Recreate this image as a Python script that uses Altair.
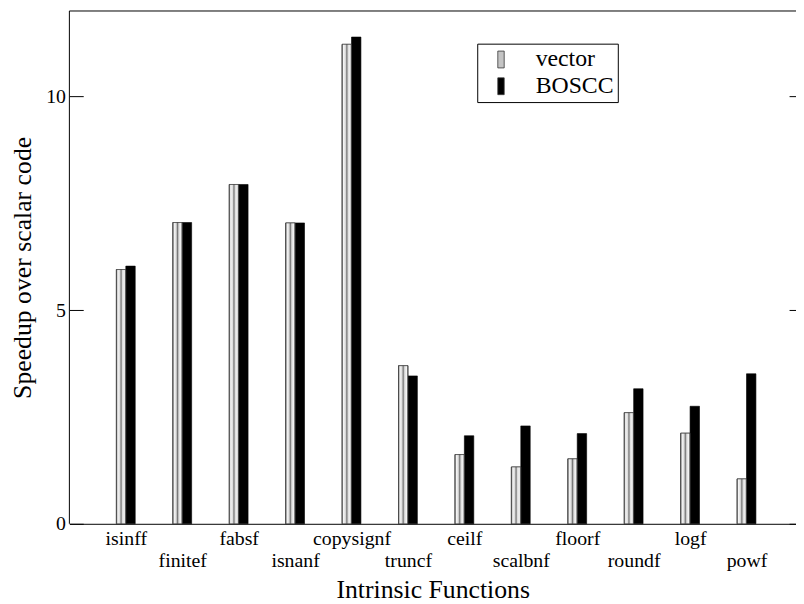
import json
import altair as alt
import pandas as pd

# ---- data ----
functions = ["isinff", "finitef", "fabsf", "isnanf", "copysignf", "truncf",
             "ceilf", "scalbnf", "floorf", "roundf", "logf", "powf"]
vector = [5.95, 7.05, 7.94, 7.04, 11.22, 3.70, 1.62, 1.33, 1.52, 2.60, 2.12, 1.05]
boscc = [6.03, 7.05, 7.94, 7.04, 11.39, 3.46, 2.06, 2.29, 2.11, 3.16, 2.75, 3.51]
series_names = ["vector", "BOSCC"]
y_ticks = [0, 5, 10]

rows = []
for i, f in enumerate(functions):
    rows.append({"func": f, "pos": i + 1, "series": "vector", "side": 0, "value": vector[i]})
    rows.append({"func": f, "pos": i + 1, "series": "BOSCC", "side": 1, "value": boscc[i]})
df = pd.DataFrame(rows)

# ---- layout / style ----
FONT = "Liberation Serif"
W, H = 734, 518
STEP = 57.0
XMAX = W / STEP
YMAX = 12
BAR_W = 0.167

xscale = alt.Scale(domain=[0, XMAX], nice=False, zero=False, padding=0)
yscale = alt.Scale(domain=[0, YMAX], nice=False, zero=False, padding=0)

label_expr = json.dumps(functions) + "[datum.value - 1]"

x_axis = alt.Axis(
    values=list(range(1, len(functions) + 1)), labelExpr=label_expr,
    ticks=False, grid=False, domain=True, domainColor="black", domainWidth=1,
    labelFont=FONT, labelFontSize=20, labelColor="black", labelOverlap=False,
    labelFlush=False,
    labelPadding={"condition": {"test": "datum.value % 2 == 0", "value": 27}, "value": 5},
    title="Intrinsic Functions", titleFont=FONT, titleFontSize=26,
    titleFontWeight="normal", titleColor="black", titlePadding=6,
)

y_axis = alt.Axis(
    values=y_ticks, orient="left", offset=-14, tickSize=14, tickColor="black",
    tickWidth=1, domain=False, grid=False, format="d",
    labelFont=FONT, labelFontSize=20, labelColor="black", labelPadding=4,
    title="Speedup over scalar code", titleFont=FONT, titleFontSize=26,
    titleFontWeight="normal", titleColor="black", titlePadding=10,
)

y_axis_right = alt.Axis(
    values=y_ticks, orient="right", offset=-7, tickSize=7, tickColor="black",
    tickWidth=1, domain=False, grid=False, labels=False, title=None,
)

hatch = alt.LinearGradient(
    gradient="linear", x1=0, x2=1, y1=0, y2=0,
    stops=[
        alt.GradientStop(color="#5a5a5a", offset=0.0),
        alt.GradientStop(color="#f4f4f4", offset=0.15),
        alt.GradientStop(color="#dddddd", offset=0.35),
        alt.GradientStop(color="#777777", offset=0.5),
        alt.GradientStop(color="#dddddd", offset=0.65),
        alt.GradientStop(color="#f4f4f4", offset=0.85),
        alt.GradientStop(color="#5a5a5a", offset=1.0),
    ],
)

base = alt.Chart(df).transform_calculate(
    x0=f"datum.pos - {BAR_W} + datum.side * {BAR_W}",
    x1=f"datum.pos + datum.side * {BAR_W}",
)

bars = base.mark_bar(stroke="black", strokeWidth=0.6).encode(
    x=alt.X("x0:Q", scale=xscale, axis=x_axis),
    x2="x1:Q",
    y=alt.Y("value:Q", scale=yscale, axis=y_axis),
    y2=alt.Y2(datum=0),
    color=alt.Color(
        "series:N",
        scale=alt.Scale(domain=series_names, range=["#c4c4c4", "black"]),
        legend=alt.Legend(
            orient="none", legendX=412, legendY=33, title=None,
            padding=4, strokeColor="black", fillColor="white", cornerRadius=0,
            symbolType="M-0.38,-1H0.38V1H-0.38Z", symbolSize=289,
            symbolOffset=8, symbolStrokeColor="#333333", symbolStrokeWidth=0.8,
            labelFont=FONT, labelFontSize=24, labelColor="black",
            labelOffset=23, rowPadding=3,
        ),
    ),
)

hatched = base.transform_filter(alt.datum.series == "vector").mark_bar(
    fill=hatch, stroke="#444444", strokeWidth=0.7
).encode(
    x=alt.X("x0:Q", scale=xscale, axis=None),
    x2="x1:Q",
    y=alt.Y("value:Q", scale=yscale, axis=y_axis_right),
    y2=alt.Y2(datum=0),
)

one = pd.DataFrame({"k": [0]})
top_frame = alt.Chart(one).mark_rule(color="black", strokeWidth=1).encode(
    x=alt.X(datum=0, type="quantitative", scale=xscale, axis=None),
    x2=alt.X2(datum=XMAX),
    y=alt.Y(datum=YMAX, type="quantitative", scale=yscale, axis=None),
)
left_frame = alt.Chart(one).mark_rule(color="black", strokeWidth=1).encode(
    x=alt.X(datum=0, type="quantitative", scale=xscale, axis=None),
    y=alt.Y(datum=0, type="quantitative", scale=yscale, axis=None),
    y2=alt.Y2(datum=YMAX),
)

chart = alt.layer(bars, hatched, top_frame, left_frame).resolve_axis(
    x="independent", y="independent"
).properties(
    width=W, height=H,
    autosize=alt.AutoSizeParams(type="none"),
    padding={"left": 62, "top": 0, "right": 0, "bottom": 78},
    background="white",
).configure_view(strokeOpacity=0)

chart.save("out.html", embed_options={"renderer": "svg", "actions": False})
